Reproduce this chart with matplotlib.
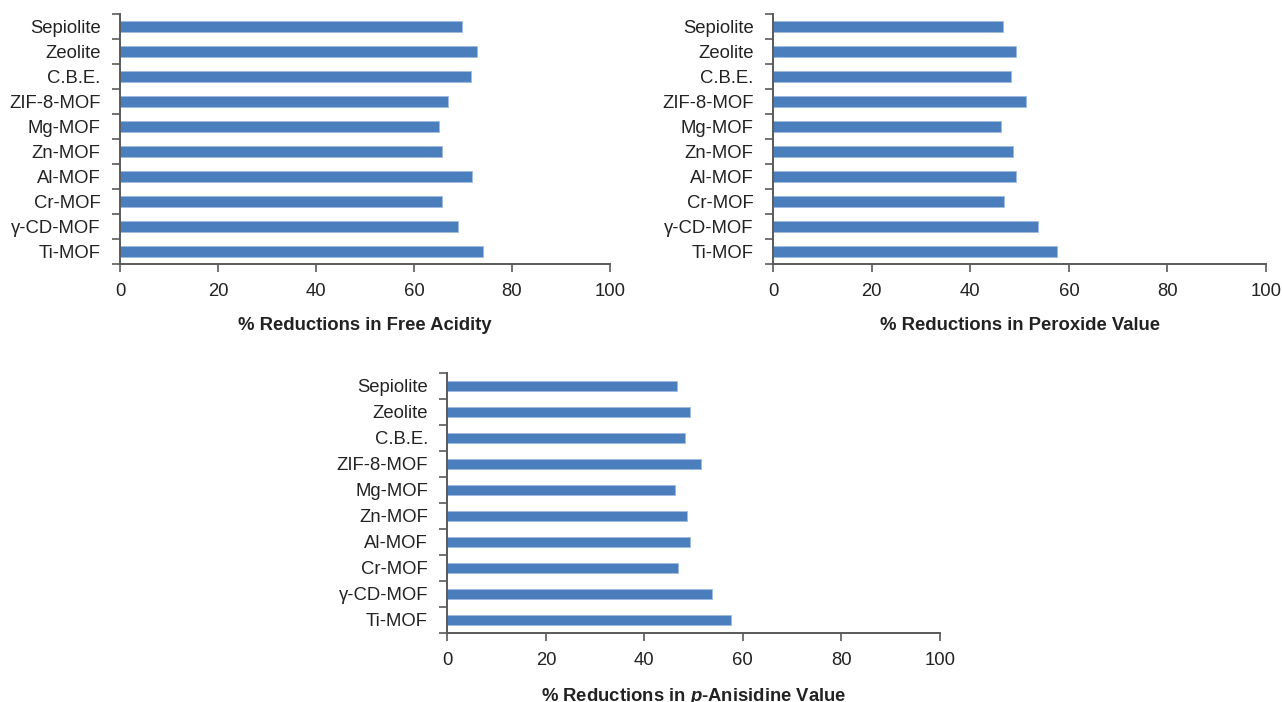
import matplotlib
matplotlib.use('Agg')
import matplotlib.pyplot as plt
import numpy as np

plt.rcParams['font.family'] = ['Liberation Sans', 'DejaVu Sans']
plt.rcParams['mathtext.fontset'] = 'custom'
plt.rcParams['mathtext.bfit'] = 'Liberation Sans:bold:italic'
plt.rcParams['mathtext.bf'] = 'Liberation Sans:bold'

# categories listed top to bottom
materials = ['Sepiolite', 'Zeolite', 'C.B.E.', 'ZIF-8-MOF', 'Mg-MOF',
             'Zn-MOF', 'Al-MOF', 'Cr-MOF', 'γ-CD-MOF', 'Ti-MOF']
free_acidity = [69.9, 72.9, 71.6, 66.9, 65.2, 65.8, 71.9, 65.7, 68.9, 74.0]
peroxide = [46.6, 49.2, 48.3, 51.4, 46.2, 48.7, 49.2, 46.9, 53.8, 57.5]
anisidine = [46.6, 49.2, 48.3, 51.4, 46.2, 48.7, 49.2, 46.9, 53.8, 57.5]
xticks = [0, 20, 40, 60, 80, 100]

bar_color = '#4a7ebd'
spine_color = '#5a5a5a'

fig = plt.figure(figsize=(12.82, 7.02), dpi=100)

panels = [
    ([0.0936, 0.6239, 0.3822, 0.356], free_acidity, '% Reductions in Free Acidity'),
    ([0.603, 0.6239, 0.3846, 0.356], peroxide, '% Reductions in Peroxide Value'),
    ([0.349, 0.0983, 0.3841, 0.3704], anisidine,
     '% Reductions in $\\mathbfit{p}$-Anisidine Value'),
]

for rect, vals, label in panels:
    ax = fig.add_axes(rect)
    y = np.arange(len(materials))
    ax.barh(y, vals, height=0.42, color=bar_color, edgecolor='#9fbbe0', linewidth=0.6)
    ax.set_ylim(len(materials) - 0.5, -0.5)
    ax.set_xlim(0, 100)
    ax.set_xticks(xticks)
    ax.set_xticklabels([str(t) for t in xticks], fontsize=13.3, color='#222222')
    # boundary ticks (major), labels at bar centres (minor)
    ax.set_yticks(np.arange(len(materials) + 1) - 0.5)
    ax.set_yticklabels([])
    ax.set_yticks(y, minor=True)
    ax.set_yticklabels(materials, minor=True, fontsize=13.3, color='#222222')
    ax.tick_params(axis='y', which='minor', length=0, pad=14)
    ax.tick_params(axis='y', which='major', length=6, width=1.2, color=spine_color)
    ax.tick_params(axis='x', length=6, width=1.2, color=spine_color, pad=8)
    for s in ['top', 'right']:
        ax.spines[s].set_visible(False)
    for s in ['left', 'bottom']:
        ax.spines[s].set_color(spine_color)
        ax.spines[s].set_linewidth(1.4)
    ax.set_xlabel(label, fontsize=13.3, fontweight='bold', labelpad=12, color='#222222')

fig.savefig('out.png', dpi=100)
